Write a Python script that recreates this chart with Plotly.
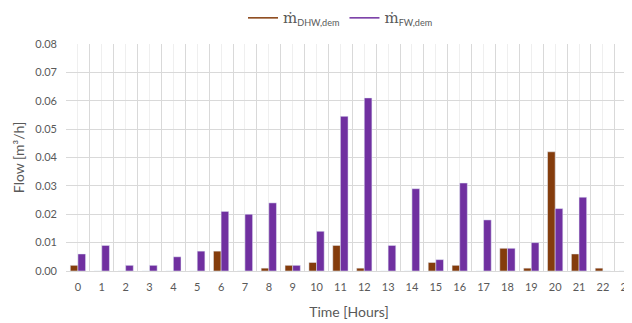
import plotly.graph_objects as go

hours = list(range(24))
hour_labels = [str(h) for h in hours]
dhw_dem = [0.002, 0, 0, 0, 0, 0, 0.007, 0, 0.001, 0.002, 0.003, 0.009,
           0.001, 0, 0, 0.003, 0.002, 0, 0.008, 0.001, 0.042, 0.006, 0.001, 0]
fw_dem = [0.006, 0.009, 0.002, 0.002, 0.005, 0.007, 0.021, 0.020, 0.024, 0.002, 0.014, 0.0545,
          0.061, 0.009, 0.029, 0.004, 0.031, 0.018, 0.008, 0.010, 0.022, 0.026, 0, 0]
y_ticks = [0, 0.01, 0.02, 0.03, 0.04, 0.05, 0.06, 0.07, 0.08]

BROWN = "#843C0C"
PURPLE = "#7030A0"
GREY = "#595959"
FONT = "Lato"

name_dhw = '<span style="font-family:DejaVu Serif;font-size:15px">ṁ</span><sub>DHW,dem</sub>'
name_fw = '<span style="font-family:DejaVu Serif;font-size:15px">ṁ</span><sub>FW,dem</sub>'

fig = go.Figure()
fig.add_trace(go.Bar(x=hours, y=dhw_dem, marker_color=BROWN, showlegend=False, name="DHW"))
fig.add_trace(go.Bar(x=hours, y=fw_dem, marker_color=PURPLE, showlegend=False, name="FW"))
# legend entries with line symbols
fig.add_trace(go.Scatter(x=[None], y=[None], mode="lines", line=dict(color=BROWN, width=1.5), name=name_dhw))
fig.add_trace(go.Scatter(x=[None], y=[None], mode="lines", line=dict(color=PURPLE, width=1.5), name=name_fw))

fig.update_layout(
    width=624, height=315,
    margin=dict(l=58, r=0, t=36, b=52, autoexpand=False),
    paper_bgcolor="white", plot_bgcolor="white",
    barmode="group", bargap=0.36, bargroupgap=0,
    font=dict(family=FONT, color=GREY, size=11),
    legend=dict(orientation="h", x=0.485, xanchor="center", y=1.115, yanchor="middle",
                font=dict(size=13, color=GREY), itemwidth=30, tracegroupgap=0,
                bgcolor="rgba(0,0,0,0)"),
    xaxis=dict(
        range=[-0.5, 23.22], tickmode="array", tickvals=hours, ticktext=hour_labels,
        showgrid=True, gridcolor="#EFEFEF", gridwidth=1,
        minor=dict(tickmode="linear", tick0=0.5, dtick=1, showgrid=True, gridcolor="#D9D9D9", gridwidth=1),
        zeroline=False, showline=False, ticks="", ticklabelstandoff=8,
        ticklabeloverflow="allow",
        tickfont=dict(size=11, color=GREY),
        title=dict(text="Time [Hours]", font=dict(size=14, color=GREY), standoff=15),
        automargin=False,
    ),
    yaxis=dict(
        range=[0, 0.08], tickmode="array", tickvals=y_ticks, tickformat=".2f",
        showgrid=True, gridcolor="#D9D9D9", gridwidth=1,
        zeroline=True, zerolinecolor="#D9D9D9", zerolinewidth=1,
        showline=False, ticks="", ticklabelstandoff=8,
        tickfont=dict(size=11, color=GREY),
        title=dict(text="Flow [m³/h]", font=dict(size=14, color=GREY), standoff=7),
        automargin=False,
    ),
)

fig.write_html("out.html")
